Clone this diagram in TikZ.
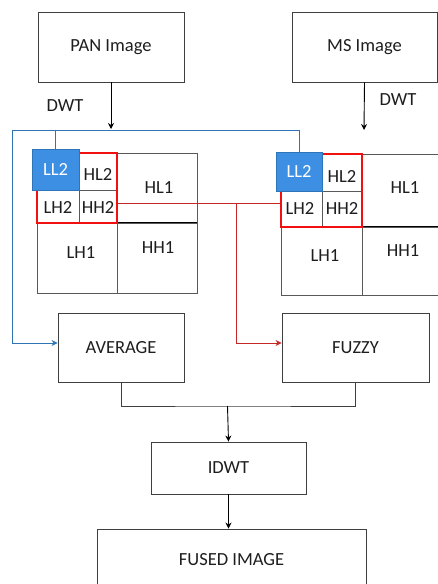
\documentclass[tikz,border=0pt]{standalone}
\usepackage{fontspec}
\setmainfont{Carlito}
\usetikzlibrary{arrows.meta}
\definecolor{boxline}{HTML}{3F3F3F}
\definecolor{txt}{HTML}{1E1E1E}
\definecolor{bluefill}{HTML}{3D8FE3}
\definecolor{blueline}{HTML}{2E75B6}
\definecolor{redthick}{HTML}{F01010}
\definecolor{redthin}{HTML}{C62828}
\definecolor{gridline}{HTML}{595959}
\tikzset{
  box/.style={draw=boxline, line width=0.9pt, inner sep=0pt, text=txt, font=\fontsize{18.5}{20}\selectfont},
  cell/.style={draw=gridline, line width=0.9pt, inner sep=0pt},
  lbl/.style={inner sep=0pt, text=txt, font=\fontsize{18.5}{20}\selectfont},
  glbl/.style={inner sep=0pt, text=txt, font=\fontsize{18.5}{20}\selectfont},
  ll/.style={draw=blueline, fill=bluefill, line width=0.8pt, inner sep=0pt, text=white, font=\fontsize{18.5}{20}\selectfont},
  redbox/.style={draw=redthick, line width=2.4pt, inner sep=0pt},
  arr/.style={draw=black, line width=0.9pt, -{Stealth[length=6pt,width=6pt]}},
  conn/.style={draw=boxline, line width=0.9pt},
  bluearr/.style={draw=blueline, line width=0.9pt, -{Stealth[length=6pt,width=6pt]}},
  bluecon/.style={draw=blueline, line width=0.9pt},
  redcon/.style={draw=redthin, line width=0.9pt},
  redarr/.style={draw=redthin, line width=0.9pt, -{Stealth[length=6pt,width=6pt]}},
}
\begin{document}
\begin{tikzpicture}[x=1pt,y=-1pt]
\useasboundingbox (0,0) rectangle (437,584);
\fill[white] (0,0) rectangle (437,584);

% top boxes
\node[box, minimum width=146pt, minimum height=70pt] (pan) at (111,47) {PAN Image};
\node[box, minimum width=145pt, minimum height=70pt] (ms) at (364.5,47) {MS Image};
\node[lbl] (dwtl) at (65,106) {DWT};
\node[lbl] (dwtr) at (398,100) {DWT};

% left grid
\node[cell, minimum width=80pt, minimum height=70pt] (lHL1) at (157,188) {};
\node[cell, minimum width=80pt, minimum height=70pt] (lLH1) at (77,258) {};
\node[cell, minimum width=80pt, minimum height=70pt] (lHH1) at (157,258) {};
\draw[black, line width=1.6pt] (lHH1.north west) -- (lHH1.north east);
\node[cell, minimum width=38pt, minimum height=37pt] (lHL2) at (98,171.5) {};
\node[cell, minimum width=42pt, minimum height=33pt] (lLH2) at (58,206.5) {};
\node[cell, minimum width=38pt, minimum height=33pt] (lHH2) at (98,206.5) {};
\node[redbox, minimum width=80pt, minimum height=70pt] (lred) at (77,188) {};
\node[ll, minimum width=47pt, minimum height=41pt] (lLL2) at (55.5,169.5) {LL2};
\node[glbl] (tlHL2) at (98,174) {HL2};
\node[glbl] (tlLH2) at (58,207) {LH2};
\node[glbl] (tlHH2) at (98,207) {HH2};
\node[glbl] (tlHL1) at (159,188) {HL1};
\node[glbl] (tlLH1) at (81,253) {LH1};
\node[glbl] (tlHH1) at (158,248) {HH1};

% right grid
\node[cell, minimum width=86pt, minimum height=73pt] (rHL1) at (405,190.5) {};
\node[cell, minimum width=81pt, minimum height=68pt] (rLH1) at (321.5,261) {};
\node[cell, minimum width=86pt, minimum height=68pt] (rHH1) at (405,261) {};
\draw[black, line width=1.6pt] (rLH1.north west) -- (rHH1.north east);
\node[cell, minimum width=40pt, minimum height=37pt] (rHL2) at (342,172.5) {};
\node[cell, minimum width=41pt, minimum height=36pt] (rLH2) at (301.5,209) {};
\node[cell, minimum width=40pt, minimum height=36pt] (rHH2) at (342,209) {};
\node[redbox, minimum width=81pt, minimum height=73pt] (rred) at (321.5,190.5) {};
\node[ll, minimum width=46pt, minimum height=39pt] (rLL2) at (299,171.5) {LL2};
\node[glbl] (trHL2) at (342,176) {HL2};
\node[glbl] (trLH2) at (300,208) {LH2};
\node[glbl] (trHH2) at (342,208) {HH2};
\node[glbl] (trHL1) at (405,188) {HL1};
\node[glbl] (trLH1) at (325,256) {LH1};
\node[glbl] (trHH1) at (403,251) {HH1};

% process boxes
\node[box, minimum width=126pt, minimum height=69pt] (average) at (121,347.5) {AVERAGE};
\node[box, minimum width=147pt, minimum height=69pt] (fuzzy) at (355.5,347.5) {FUZZY};
\node[box, minimum width=155pt, minimum height=52pt] (idwt) at (228.5,468) {IDWT};
\node[box, minimum width=269pt, minimum height=62pt] (fused) at (231.5,560) {FUSED IMAGE};

% DWT arrows
\coordinate (panend) at (111,129);
\coordinate (msend) at (364,130);
\draw[arr] (pan.south) -- (panend);
\draw[arr] (ms.south) -- (msend);

% blue connectors
\coordinate (bl) at (12,130);
\draw[bluecon] (rLL2.north) |- (bl);
\draw[bluecon] (lLL2.north) -- (lLL2.north |- bl);
\draw[bluearr] (bl) |- ([yshift=4.5pt]average.west);

% red connectors
\coordinate (rsplit) at (236,203);
\draw[redcon] ([yshift=-15pt]lred.east) -- ([yshift=-12.5pt]rred.west);
\draw[redarr] (rsplit) |- ([yshift=4.5pt]fuzzy.west);

% merge
\coordinate (join) at (227.5,406);
\draw[conn] (average.south) |- (join) -| (fuzzy.south);
\draw[arr] (join) -- (idwt.north);
\draw[arr] (idwt.south) -- (idwt.south |- fused.north);
\end{tikzpicture}
\end{document}
